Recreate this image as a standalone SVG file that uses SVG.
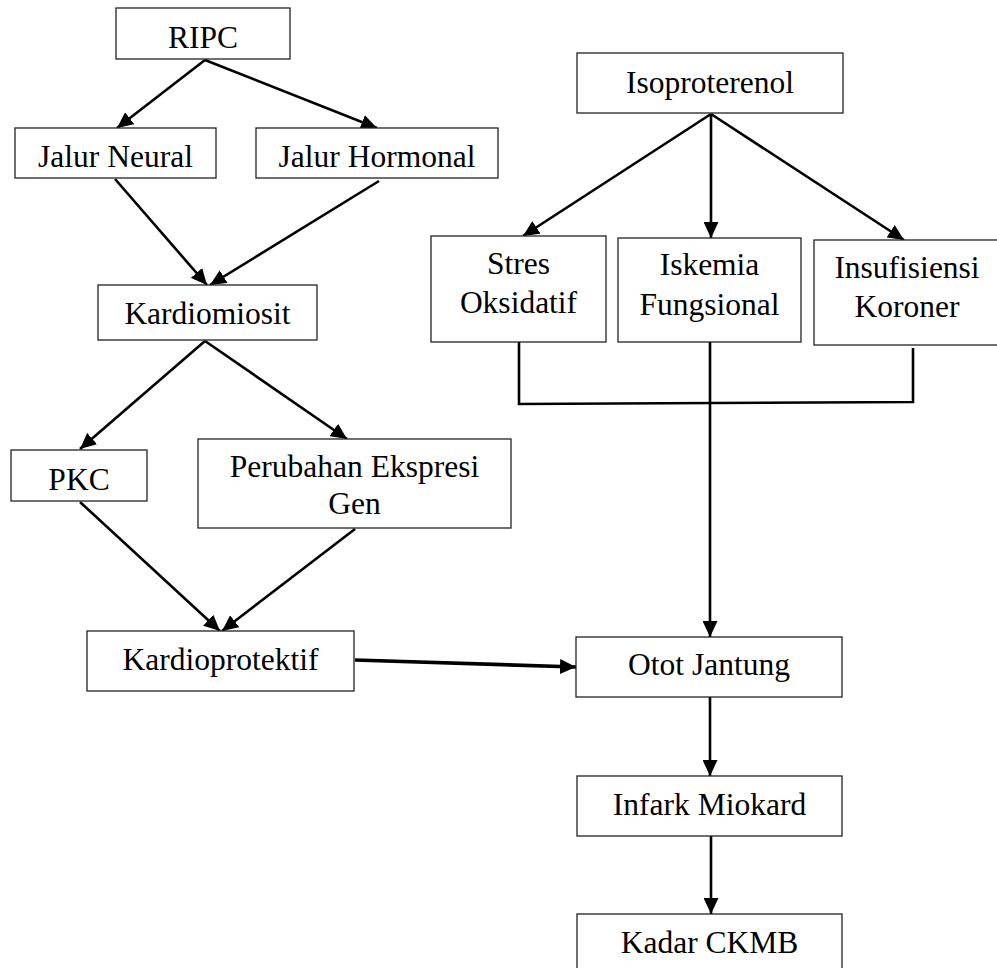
<svg xmlns="http://www.w3.org/2000/svg" width="997" height="968" viewBox="0 0 997 968">
<style>
.box{fill:#fff;stroke:#222;stroke-width:1.3}
.t{font-family:'Liberation Serif','Tinos','Times New Roman','DejaVu Serif',serif;font-size:31.5px;fill:#000;text-anchor:middle}
.c{fill:none;stroke:#000;stroke-width:2.6}
.a{marker-end:url(#ah)}
</style>
<defs>
<marker id="ah" markerUnits="userSpaceOnUse" markerWidth="16" markerHeight="15" refX="16" refY="7.5" orient="auto">
<path d="M0,0 L16,7.5 L0,15 z" fill="#000"/>
</marker>
</defs>
<rect width="997" height="968" fill="#fff"/>
<g id="connectors">
<line class="c a" x1="205" y1="60" x2="117" y2="128"/>
<line class="c a" x1="205" y1="60" x2="377" y2="128"/>
<line class="c a" x1="115" y1="179" x2="207" y2="285"/>
<line class="c a" x1="379" y1="181" x2="210" y2="285"/>
<line class="c a" x1="205" y1="341" x2="80" y2="449"/>
<line class="c a" x1="205" y1="341" x2="347" y2="439"/>
<line class="c a" x1="80" y1="502" x2="220" y2="631"/>
<line class="c a" x1="355" y1="529" x2="222" y2="631"/>
<line class="c a" x1="355" y1="660" x2="576" y2="667" style="stroke-width:3.6"/>
<line class="c a" x1="711" y1="114" x2="523" y2="236"/>
<line class="c a" x1="711" y1="114" x2="711" y2="238"/>
<line class="c a" x1="711" y1="114" x2="904" y2="240"/>
<polyline class="c" points="519,342 519,404 913,402 913,348"/>
<line class="c a" x1="710" y1="342" x2="710" y2="637"/>
<line class="c a" x1="710" y1="697" x2="710" y2="776"/>
<line class="c a" x1="711" y1="836" x2="711" y2="914"/>
</g>
<g id="ripc"><rect class="box" x="116" y="8" width="174" height="51"/><text class="t" x="203" y="48">RIPC</text></g>
<g id="jalur-neural"><rect class="box" x="15" y="128" width="201" height="50"/><text class="t" x="115.5" y="167">Jalur Neural</text></g>
<g id="jalur-hormonal"><rect class="box" x="256" y="128" width="242" height="50"/><text class="t" x="377" y="167">Jalur Hormonal</text></g>
<g id="kardiomiosit"><rect class="box" x="98" y="285" width="219" height="55"/><text class="t" x="207.5" y="324">Kardiomiosit</text></g>
<g id="pkc"><rect class="box" x="11" y="450" width="136" height="51"/><text class="t" x="79" y="490">PKC</text></g>
<g id="perubahan"><rect class="box" x="198" y="439" width="313" height="89"/><text class="t" x="354.5" y="477">Perubahan Ekspresi</text><text class="t" x="354.5" y="514">Gen</text></g>
<g id="kardioprotektif"><rect class="box" x="87" y="631" width="267" height="60"/><text class="t" x="220.5" y="670">Kardioprotektif</text></g>
<g id="isoproterenol"><rect class="box" x="577" y="53" width="266" height="60"/><text class="t" x="710" y="93">Isoproterenol</text></g>
<g id="stres-oksidatif"><rect class="box" x="431" y="236" width="175" height="106"/><text class="t" x="518.5" y="274">Stres</text><text class="t" x="518.5" y="313">Oksidatif</text></g>
<g id="iskemia-fungsional"><rect class="box" x="618" y="238" width="183" height="104"/><text class="t" x="709.5" y="275">Iskemia</text><text class="t" x="709.5" y="315">Fungsional</text></g>
<g id="insufisiensi-koroner"><rect class="box" x="814" y="240" width="188" height="105"/><text class="t" x="907" y="278">Insufisiensi</text><text class="t" x="907" y="317">Koroner</text></g>
<g id="otot-jantung"><rect class="box" x="576" y="637" width="266" height="60"/><text class="t" x="709" y="675">Otot Jantung</text></g>
<g id="infark-miokard"><rect class="box" x="577" y="776" width="265" height="60"/><text class="t" x="709.5" y="815">Infark Miokard</text></g>
<g id="kadar-ckmb"><rect class="box" x="577" y="914" width="265" height="60"/><text class="t" x="709.5" y="953">Kadar CKMB</text></g>
</svg>
